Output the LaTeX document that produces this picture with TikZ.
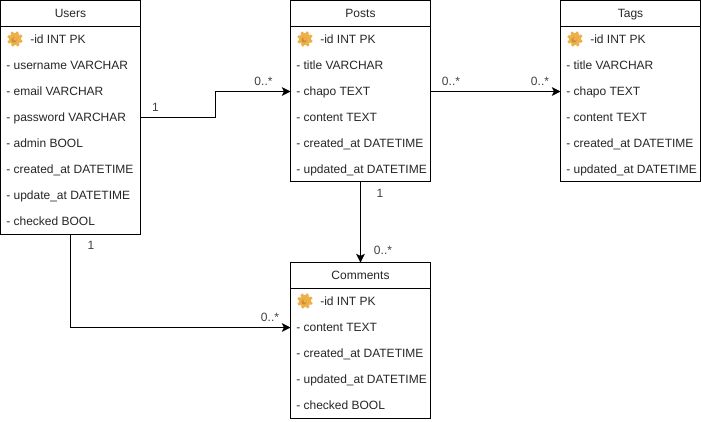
\documentclass[tikz,border=0pt]{standalone}
\usepackage{fontspec}
\setmainfont{Liberation Sans}
\usetikzlibrary{arrows.meta,calc}
\definecolor{gearo}{HTML}{EDB04A}
\definecolor{geard}{HTML}{D08F2E}
\tikzset{
  x=0.75pt,y=-0.75pt,
  tablebox/.style={draw=black,line width=0.75pt,fill=white,minimum width=105pt,inner sep=0pt,outer sep=0pt,anchor=north west},
  headtext/.style={font=\fontsize{9}{11}\selectfont,text=black!85,inner sep=0pt,text height=6.6pt,text depth=1.9pt,anchor=center,yshift=-1.1pt},
  rowtext/.style={font=\fontsize{9}{11}\selectfont,text=black!85,inner sep=0pt,text height=6.6pt,text depth=1.9pt,anchor=west,yshift=-0.75pt},
  card/.style={font=\fontsize{9}{11}\selectfont,text=black!75,inner sep=0pt,text height=6.6pt,text depth=0pt,anchor=center},
  conn/.style={draw=black,line width=0.75pt},
  connarrow/.style={conn,-{Stealth[length=6.5pt,width=6.5pt,inset=1.6pt]}},
  gearicon/.pic={
    \foreach \a in {20,65,...,335}{
      \fill[gearo] (\a:6.3) circle[radius=1.9];
    }
    \fill[gearo] (0,0) circle[radius=6];
    \fill[geard] (-1,1) circle[radius=2.6];
    \fill[gearo] (0,0) circle[radius=1.8];
  }
}
\newcommand{\gearat}[2]{\pic at (#1,#2) {gearicon};}
\begin{document}
\begin{tikzpicture}
\useasboundingbox (0,0) rectangle (701,422);
% Users
\node[tablebox,minimum height=175.5pt] (users) at (0.5,0.5) {};
\coordinate (uh) at (0.5,26.5);
\draw[conn] (uh) -- ++(140,0);
\node[headtext] (uT) at (70.5,13) {Users};
\node[rowtext] (u1) at (30,39.5) {-id INT PK};
\node[rowtext] (u2) at (6,65.5) {- username VARCHAR};
\node[rowtext] (u3) at (6,91.5) {- email VARCHAR};
\node[rowtext] (u4) at (6,117.5) {- password VARCHAR};
\node[rowtext] (u5) at (6,143.5) {- admin BOOL};
\node[rowtext] (u6) at (6,169.5) {- created\_at DATETIME};
\node[rowtext] (u7) at (6,195.5) {- update\_at DATETIME};
\node[rowtext] (u8) at (6,221.5) {- checked BOOL};
\gearat{15}{39}
% Posts
\node[tablebox,minimum height=136pt] (posts) at (290.5,0.5) {};
\coordinate (ph) at (290.5,26.5);
\draw[conn] (ph) -- ++(140,0);
\node[headtext] (pT) at (360.5,13) {Posts};
\node[rowtext] (p1) at (320,39.5) {-id INT PK};
\node[rowtext] (p2) at (296,65.5) {- title VARCHAR};
\node[rowtext] (p3) at (296,91.5) {- chapo TEXT};
\node[rowtext] (p4) at (296,117.5) {- content TEXT};
\node[rowtext] (p5) at (296,143.5) {- created\_at DATETIME};
\node[rowtext] (p6) at (296,169.5) {- updated\_at DATETIME};
\gearat{305}{39}
% Tags
\node[tablebox,minimum height=136pt] (tags) at (560.5,0.5) {};
\coordinate (th) at (560.5,26.5);
\draw[conn] (th) -- ++(140,0);
\node[headtext] (tT) at (630.5,13) {Tags};
\node[rowtext] (t1) at (590,39.5) {-id INT PK};
\node[rowtext] (t2) at (566,65.5) {- title VARCHAR};
\node[rowtext] (t3) at (566,91.5) {- chapo TEXT};
\node[rowtext] (t4) at (566,117.5) {- content TEXT};
\node[rowtext] (t5) at (566,143.5) {- created\_at DATETIME};
\node[rowtext] (t6) at (566,169.5) {- updated\_at DATETIME};
\gearat{575}{39}
% Comments
\node[tablebox,minimum height=117pt] (comments) at (290.5,262.5) {};
\coordinate (ch) at (290.5,288.5);
\draw[conn] (ch) -- ++(140,0);
\node[headtext] (cT) at (360.5,275) {Comments};
\node[rowtext] (c1) at (320,301.5) {-id INT PK};
\node[rowtext] (c2) at (296,327.5) {- content TEXT};
\node[rowtext] (c3) at (296,353.5) {- created\_at DATETIME};
\node[rowtext] (c4) at (296,379.5) {- updated\_at DATETIME};
\node[rowtext] (c5) at (296,405.5) {- checked BOOL};
\gearat{305}{301}
% Connectors
\coordinate (a1) at (users.east |- 0,117.5);
\coordinate (a2) at (posts.west |- 0,91.5);
\coordinate (a3) at (posts.east |- 0,91.5);
\coordinate (a4) at (tags.west |- 0,91.5);
\coordinate (a5) at (comments.west |- 0,327.5);
\draw[connarrow] (a1) -- (215.5,117.5) -- (215.5,91.5) -- (a2);
\draw[connarrow] (a3) -- (a4);
\draw[connarrow] (posts.south) -- (comments.north);
\draw[connarrow] (users.south) |- (a5);
% Cardinalities
\node[card] (l1) at (155.5,107.5) {1};
\node[card] (l2) at (263.5,81) {0..*};
\node[card] (l3) at (451,81) {0..*};
\node[card] (l4) at (540,81) {0..*};
\node[card] (l5) at (380,193) {1};
\node[card] (l6) at (383,250) {0..*};
\node[card] (l7) at (91,245.5) {1};
\node[card] (l8) at (270,317) {0..*};
\end{tikzpicture}
\end{document}
